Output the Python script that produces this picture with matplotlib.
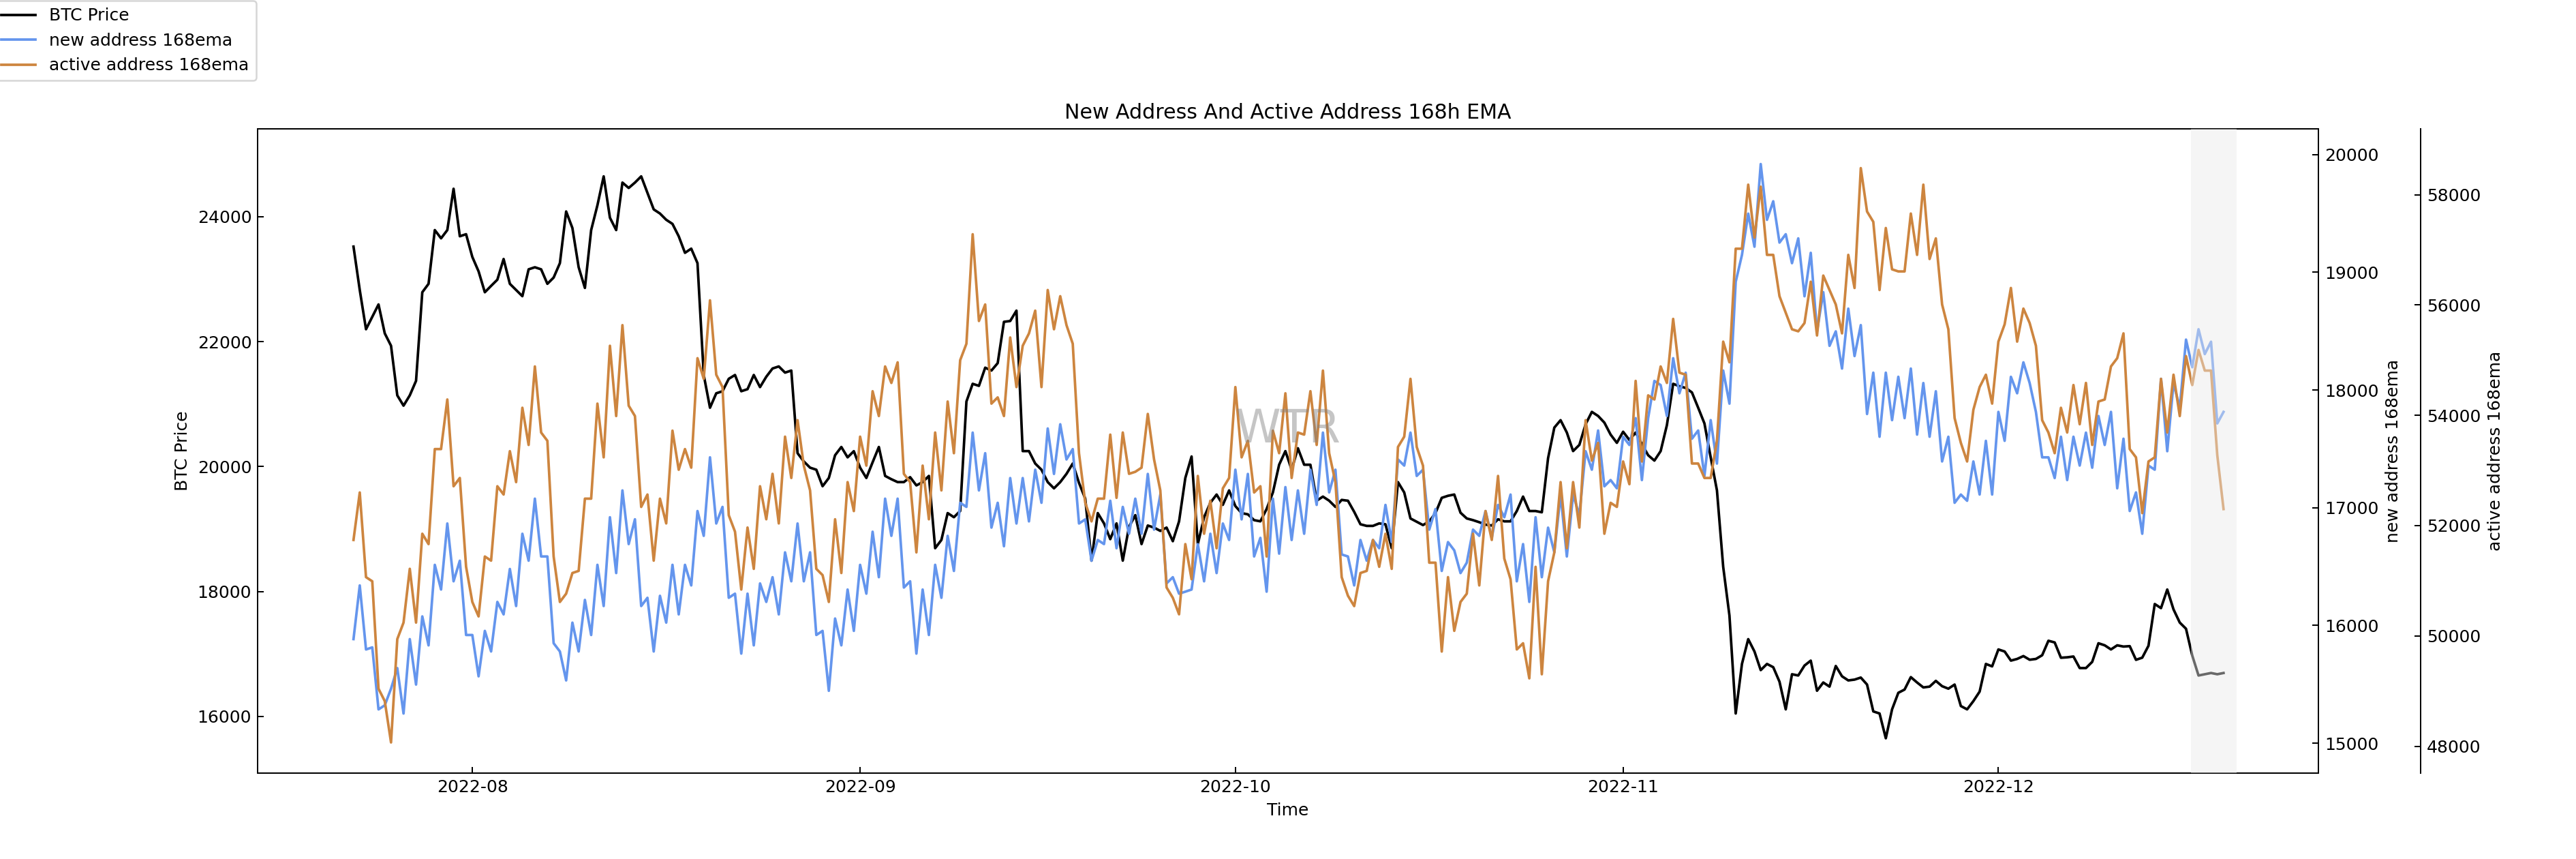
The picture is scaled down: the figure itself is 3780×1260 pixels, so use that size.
import pandas as pd
import matplotlib
matplotlib.use('Agg')
from matplotlib import pyplot as plt

# 12-hourly samples
time = pd.date_range('2022-07-22 12:00', '2022-12-19 00:00', freq='12h')

btc_price = [
    23520, 22825, 22197, 22396, 22594, 22131, 21933, 21139, 20974, 21139, 21371, 22789, 22924, 23784, 23652, 23784,
    24445, 23685, 23718, 23354, 23123, 22789, 22891, 22990, 23321, 22924, 22825, 22726, 23156, 23189, 23156, 22924,
    23024, 23255, 24082, 23817, 23189, 22858, 23784, 24181, 24644, 23982, 23784, 24544, 24458, 24544,
    24644, 24379, 24115, 24049, 23949, 23883, 23685, 23420, 23487, 23255, 21465, 20941, 21172, 21205, 21404, 21465,
    21205, 21238, 21465, 21271, 21437, 21569, 21602, 21503, 21536, 20214, 20081, 19982, 19949, 19685, 19817, 20181,
    20313, 20147, 20246, 19982, 19817, 20068, 20313, 19850, 19797, 19751, 19751, 19830, 19698, 19751, 19850,
    18693, 18825, 19255, 19189, 19288, 21040, 21324, 21291, 21582, 21536, 21655, 22316, 22329, 22495, 20247, 20247,
    20048, 19949, 19751, 19651, 19751, 19883, 20048, 19738, 19486, 18494, 19255, 19090, 18838, 19090, 18494, 19037,
    19222, 18759, 19056, 19023, 18970, 19023, 18805, 19123, 19817, 20161, 18759, 19189, 19420, 19552, 19387,
    19618, 19367, 19255, 19235, 19142, 19123, 19321, 19585, 20029, 20247, 19949, 20293, 20029, 20029, 19453, 19519,
    19453, 19354, 19466, 19453, 19275, 19076, 19050, 19050, 19090, 19076, 18693, 19751, 19585, 19169, 19116, 19063,
    19123, 19255, 19499, 19532, 19552, 19261, 19169, 19142, 19109, 19070, 19056, 19156, 19123, 19123, 19288,
    19519, 19288, 19288, 19268, 20134, 20623, 20742, 20544, 20247, 20346, 20676, 20875, 20809, 20703, 20511, 20379,
    20557, 20425, 20544, 20359, 20181, 20095, 20247, 20663, 21324, 21285, 21258, 21186, 20941, 20690, 20147, 19619,
    18395, 17615, 16048, 16841, 17238, 17040, 16742, 16841, 16789, 16557, 16114, 16676, 16656, 16815, 16894,
    16412, 16544, 16478, 16808, 16643, 16577, 16590, 16623, 16511, 16081, 16048, 15651, 16114, 16379, 16431, 16630,
    16544, 16465, 16478, 16570, 16485, 16445, 16511, 16167, 16114, 16246, 16398, 16841, 16802, 17073, 17040, 16894,
    16921, 16967, 16908, 16921, 16980, 17212, 17185, 16940, 16947, 16960, 16775, 16775, 16874, 17172, 17139,
    17073, 17139, 17119, 17126, 16907, 16941, 17132, 17800, 17734, 18032, 17714, 17503, 17404, 16974, 16656, 16676,
    16696, 16676, 16696,
]

new_addr_ema = [
    15884, 16340, 15796, 15814, 15287, 15322, 15463, 15638, 15252, 15884, 15498, 16077, 15831, 16515, 16305, 16866,
    16375, 16550, 15919, 15919, 15568, 15954, 15779, 16200, 16094, 16480, 16165, 16779, 16550, 17077, 16586, 16586,
    15849, 15779, 15533, 16024, 15779, 16217, 15919, 16515, 16165, 16919, 16445, 17147, 16691, 16902,
    16165, 16235, 15779, 16252, 16024, 16515, 16094, 16515, 16340, 16972, 16761, 17428, 16866, 17007, 16235, 16270,
    15761, 16270, 15831, 16357, 16200, 16410, 16094, 16621, 16375, 16866, 16375, 16621, 15919, 15954, 15445, 16059,
    15831, 16305, 15954, 16515, 16270, 16796, 16410, 17077, 16761, 17077, 16322, 16375, 15761, 16305, 15919,
    16515, 16235, 16761, 16463, 17042, 17007, 17638, 17147, 17463, 16831, 17042, 16673, 17252, 16866, 17252, 16884,
    17323, 17042, 17673, 17287, 17709, 17410, 17498, 16866, 16901, 16550, 16726, 16691, 17059, 16656, 17007, 16779,
    17077, 16779, 17287, 16814, 17112, 16357, 16410, 16270, 16287, 16305, 16691, 16375, 16779, 16445, 16866,
    16726, 17323, 16901, 17287, 16586, 16744, 16287, 17077, 16610, 17175, 16726, 17147, 16779, 17323, 17024, 17638,
    17130, 17323, 16603, 16586, 16340, 16726, 16550, 16726, 16656, 17024, 16708, 17410, 17358, 17638, 17270, 17323,
    16814, 16989, 16463, 16708, 16638, 16445, 16533, 16814, 16761, 16972, 16744, 17024, 16919, 17112, 16375,
    16691, 16200, 16919, 16410, 16831, 16621, 17112, 16586, 17112, 16937, 17480, 17323, 17656, 17182, 17235, 17165,
    17603, 17533, 17761, 17235, 17761, 18077, 18042, 17779, 18270, 17972, 18147, 17586, 17656, 17270, 17744, 17375,
    18165, 17884, 18919, 19147, 19498, 19217, 19919, 19445, 19603, 19252, 19323, 19077, 19288, 18796, 19165,
    18498, 18831, 18375, 18498, 18182, 18691, 18288, 18551, 17796, 18147, 17603, 18147, 17744, 18112, 17761, 18182,
    17621, 18059, 17603, 17989, 17393, 17603, 17042, 17112, 17059, 17393, 17112, 17568, 17112, 17814, 17568, 18112,
    17972, 18235, 18059, 17814, 17428, 17428, 17252, 17603, 17235, 17603, 17358, 17638, 17340, 17779, 17533,
    17814, 17165, 17586, 16972, 17130, 16779, 17358, 17323, 18095, 17480, 18059, 17849, 18428, 18193, 18516, 18305,
    18410, 17716, 17814,
]

active_addr_ema = [
    51740, 52601, 51066, 50991, 49043, 48818, 48069, 49942, 50242, 51217, 50242, 51853, 51665, 53388, 53388, 54287,
    52714, 52864, 51254, 50616, 50354, 51440, 51365, 52714, 52564, 53350, 52789, 54137, 53463, 54886, 53688, 53538,
    51440, 50616, 50766, 51141, 51179, 52489, 52489, 54212, 53238, 55261, 53987, 55635, 54175, 53987,
    52339, 52564, 51365, 52489, 52040, 53722, 53013, 53388, 53051, 55036, 54661, 56085, 54736, 54512, 52189, 51890,
    50841, 51965, 51216, 52714, 52115, 52939, 52040, 53613, 52864, 53912, 53088, 52639, 51216, 51103, 50616, 52115,
    51141, 52789, 52264, 53613, 53088, 54437, 53987, 54886, 54587, 54961, 52939, 52789, 51515, 53088, 52115,
    53688, 52639, 54250, 53313, 54999, 55298, 57283, 55710, 56010, 54212, 54325, 53987, 55411, 54512, 55261, 55485,
    55898, 54512, 56272, 55560, 56160, 55635, 55298, 53313, 52414, 52077, 52489, 52489, 53650, 52504, 53688, 52939,
    52976, 53051, 54025, 53201, 52639, 50879, 50691, 50392, 51665, 51028, 52901, 51853, 52452, 51590, 52676,
    52864, 54512, 53238, 53538, 52601, 52714, 51440, 53722, 53313, 54399, 52864, 53688, 53650, 54437, 53463, 54811,
    53313, 52789, 51066, 50729, 50541, 51141, 51179, 51740, 51253, 51853, 51216, 53426, 53613, 54661, 53426, 53088,
    51328, 51328, 49717, 51066, 50092, 50616, 50766, 51853, 50916, 52264, 51740, 52901, 51403, 51028, 49755,
    49867, 49231, 51253, 49305, 50991, 51515, 52789, 51590, 52789, 51965, 53912, 53178, 53500, 51853, 52414, 52339,
    53163, 52751, 54624, 53163, 54362, 54287, 54886, 54587, 55748, 54774, 54736, 53126, 53126, 52864, 52864, 53538,
    55336, 54961, 57021, 57021, 58182, 57223, 58145, 56909, 56909, 56160, 55860, 55560, 55523, 55673, 56422,
    55448, 56534, 56272, 56010, 55486, 56909, 56309, 58482, 57695, 57508, 56272, 57396, 56647, 56609, 56609, 57658,
    56909, 58182, 56834, 57208, 56010, 55560, 53950, 53500, 53163, 54100, 54512, 54736, 54212, 55336, 55650, 56309,
    55336, 55935, 55673, 55261, 53912, 53688, 53313, 54137, 53688, 54549, 53838, 54587, 53463, 54250, 54287,
    54886, 55036, 55486, 53388, 53238, 52227, 53163, 53238, 54661, 53688, 54736, 53987, 55074, 54549, 55186, 54811,
    54811, 53276, 52300,
]

# period shaded at the end of the series
shade_start = pd.Timestamp('2022-12-16 10:00')
shade_end = pd.Timestamp('2022-12-20 01:00')

fig, ax1 = plt.subplots(figsize=(21, 7), dpi=180)
fig.subplots_adjust(left=0.1, right=0.9, bottom=0.1, top=0.85)
ax2 = ax1.twinx()
ax3 = ax1.twinx()
ax3.spines['right'].set_position(('outward', 60))

l1, = ax1.plot(time, btc_price, color='black', label='BTC Price')
l2, = ax2.plot(time, new_addr_ema, color='cornflowerblue', label='new address 168ema')
l3, = ax3.plot(time, active_addr_ema, color='peru', label='active address 168ema')

ax3.axvspan(shade_start, shade_end, color='#ebebeb', alpha=0.45, lw=0, zorder=5)

ax1.set_xlim(pd.Timestamp('2022-07-14 20:00'), pd.Timestamp('2022-12-26 14:00'))
ax1.set_ylim(15094, 25404)
ax2.set_ylim(14746, 20218)
ax3.set_ylim(47513, 59194)

ax1.set_xlabel('Time')
ax1.set_ylabel('BTC Price')
ax2.set_ylabel('new address 168ema')
ax3.set_ylabel('active address 168ema')
ax1.set_title('New Address And Active Address 168h EMA')

for ax in (ax1, ax2, ax3):
    ax.tick_params(direction='in')

fig.text(0.5, 0.5, 'WTR', fontsize=27, color='gray', alpha=0.45, ha='center', va='center')

fig.legend(handles=[l1, l2, l3], loc='upper left', bbox_to_anchor=(-0.002, 0.999), borderaxespad=0)

fig.savefig('out.png', dpi=180)
